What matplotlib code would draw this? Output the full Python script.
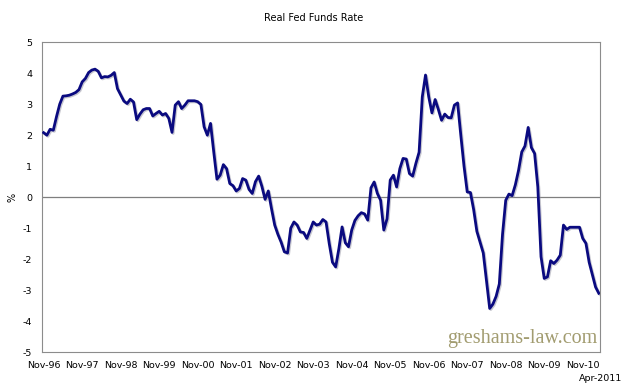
import matplotlib
matplotlib.use("Agg")
import matplotlib.pyplot as plt
import matplotlib.patheffects as pe

title = "Real Fed Funds Rate"
end_label = "Apr-2011"
tick_labels = ["Nov-96", "Nov-97", "Nov-98", "Nov-99", "Nov-00", "Nov-01", "Nov-02",
               "Nov-03", "Nov-04", "Nov-05", "Nov-06", "Nov-07", "Nov-08", "Nov-09", "Nov-10"]

# Monthly real fed funds rate (%), Nov-1996 .. Apr-2011
y1996_97 = [2.08, 2.0, 2.19, 2.16, 2.6, 3.0, 3.26, 3.27, 3.29, 3.33, 3.38, 3.47]
y1997_98 = [3.72, 3.83, 4.02, 4.1, 4.13, 4.06, 3.85, 3.89, 3.88, 3.93, 4.02, 3.5]
y1998_99 = [3.3, 3.1, 3.02, 3.16, 3.07, 2.5, 2.68, 2.82, 2.86, 2.86, 2.62, 2.7]
y1999_00 = [2.77, 2.65, 2.7, 2.54, 2.09, 2.97, 3.08, 2.86, 2.97, 3.11, 3.11, 3.11]
y2000_01 = [3.08, 2.99, 2.27, 2.0, 2.38, 1.46, 0.58, 0.71, 1.05, 0.92, 0.44, 0.37]
y2001_02 = [0.2, 0.28, 0.6, 0.55, 0.25, 0.12, 0.5, 0.68, 0.35, -0.07, 0.2, -0.37]
y2002_03 = [-0.9, -1.2, -1.45, -1.76, -1.8, -1.0, -0.8, -0.9, -1.12, -1.14, -1.33, -1.06]
y2003_04 = [-0.8, -0.9, -0.87, -0.72, -0.8, -1.5, -2.1, -2.25, -1.66, -0.96, -1.47, -1.6]
y2004_05 = [-1.06, -0.75, -0.6, -0.5, -0.54, -0.74, 0.3, 0.49, 0.12, -0.1, -1.06, -0.7]
y2005_06 = [0.55, 0.71, 0.33, 0.92, 1.25, 1.23, 0.76, 0.68, 1.09, 1.45, 3.24, 3.94]
y2006_07 = [3.24, 2.72, 3.15, 2.83, 2.48, 2.68, 2.57, 2.56, 2.97, 3.04, 2.0, 1.0]
y2007_08 = [0.17, 0.15, -0.4, -1.1, -1.45, -1.8, -2.7, -3.59, -3.45, -3.2, -2.8, -1.2]
y2008_09 = [-0.1, 0.1, 0.05, 0.4, 0.87, 1.46, 1.65, 2.25, 1.6, 1.41, 0.33, -1.92]
y2009_10 = [-2.62, -2.57, -2.05, -2.14, -2.03, -1.87, -0.9, -1.04, -0.97, -0.97, -0.97, -0.97]
y2010_11 = [-1.33, -1.49, -2.1, -2.5, -2.9, -3.1]

rate = (y1996_97 + y1997_98 + y1998_99 + y1999_00 + y2000_01 + y2001_02 + y2002_03 +
        y2003_04 + y2004_05 + y2005_06 + y2006_07 + y2007_08 + y2008_09 + y2009_10 + y2010_11)
months = list(range(len(rate)))

fig = plt.figure(figsize=(6.28, 3.87), dpi=100)
ax = fig.add_axes([0.067, 0.090, 0.888, 0.801])

line_col = "#0a0a80"
ax.plot(months, rate, color=line_col, lw=2.0, solid_joinstyle="round", zorder=3,
        path_effects=[pe.SimpleLineShadow(offset=(0.8, -0.8), shadow_color="#9090a0", alpha=0.5),
                      pe.Normal()])
ax.axhline(0, color="#7f7f7f", lw=0.9, zorder=2)

ax.set_xlim(-0.5, len(rate) - 0.7)
ax.set_ylim(-5, 5)
ax.set_yticks(range(-5, 6))
ax.set_yticklabels([str(v) for v in range(-5, 6)])
ax.set_xticks([12 * i for i in range(len(tick_labels))])
ax.set_xticklabels(tick_labels)
ax.tick_params(axis="both", length=0, labelsize=6.8, colors="#000000", pad=6)
ax.tick_params(axis="y", pad=7)

for s in ax.spines.values():
    s.set_color("#8c8c8c")
    s.set_linewidth(0.8)

ax.set_ylabel("%", fontsize=7, labelpad=4)
fig.text(0.5, 0.953, title, ha="center", va="center", fontsize=7)
fig.text(0.956, 0.023, end_label, ha="center", va="center", fontsize=6.8)

ax.text(0.995, 0.012, "greshams-law.com", transform=ax.transAxes, ha="right", va="bottom",
        fontsize=14.5, family="Liberation Serif", color="#a29c70")

fig.savefig("out.png", dpi=100)
